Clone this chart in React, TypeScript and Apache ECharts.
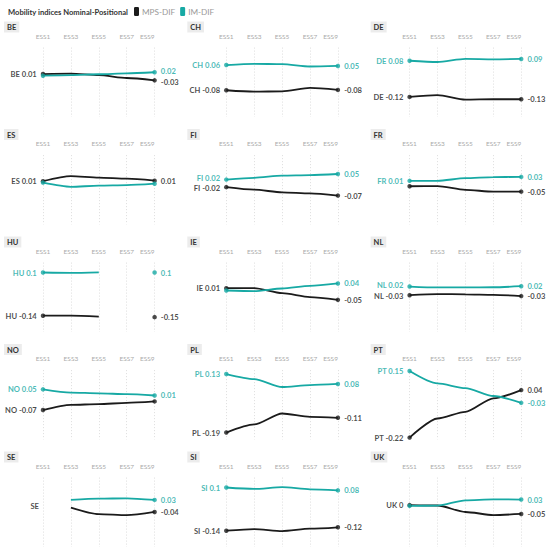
import React, { useEffect, useRef } from "react";
import * as echarts from "echarts";

const countries = ["BE", "CH", "DE", "ES", "FI", "FR", "HU", "IE", "NL", "NO", "PL", "PT", "SE", "SI", "UK"];
const rounds = [1, 3, 5, 7, 9];
const roundPrefix = "ESS";
const seriesNames = ["MPS-DIF", "IM-DIF"];

const mpsDif: (number | null)[][] = [
  [0.008, 0.01, 0.002, -0.014, -0.027],
  [-0.082, -0.09, -0.088, -0.069, -0.08],
  [-0.119, -0.109, -0.134, -0.132, -0.132],
  [0.01, 0.038, 0.03, 0.024, 0.013],
  [-0.023, -0.037, -0.052, -0.058, -0.07],
  [-0.018, -0.017, -0.038, -0.048, -0.048],
  [-0.14, -0.14, -0.145, null, -0.148],
  [0.013, 0.013, -0.015, -0.037, -0.052],
  [-0.026, -0.02, -0.021, -0.024, -0.031],
  [-0.067, -0.038, -0.034, -0.027, -0.019],
  [-0.192, -0.147, -0.086, -0.105, -0.11],
  [-0.22, -0.114, -0.077, -0.002, 0.044],
  [null, -0.012, -0.048, -0.054, -0.036],
  [-0.14, -0.131, -0.142, -0.129, -0.121],
  [0.002, 0.0, -0.036, -0.053, -0.047],
];

const imDif: (number | null)[][] = [
  [-0.001, 0.002, 0.007, 0.012, 0.018],
  [0.058, 0.065, 0.063, 0.05, 0.053],
  [0.082, 0.075, 0.092, 0.09, 0.092],
  [0.002, -0.021, -0.015, -0.012, -0.004],
  [0.019, 0.029, 0.041, 0.044, 0.05],
  [0.012, 0.012, 0.027, 0.033, 0.034],
  [0.1, 0.098, 0.101, null, 0.1],
  [0.0, -0.003, 0.011, 0.026, 0.039],
  [0.022, 0.017, 0.017, 0.018, 0.024],
  [0.048, 0.03, 0.026, 0.021, 0.014],
  [0.133, 0.105, 0.061, 0.072, 0.078],
  [0.15, 0.081, 0.055, 0.011, -0.027],
  [null, 0.031, 0.038, 0.04, 0.031],
  [0.1, 0.092, 0.102, 0.09, 0.084],
  [-0.002, -0.001, 0.029, 0.034, 0.033],
];

const FONT = "Lato, 'Noto Sans', sans-serif";
const COLORS = ["#1b1b1b", "#17a9a4"];
const Y_MIN = -0.23;
const Y_MAX = 0.155;
const PX_PER_UNIT = 180;
const COL_X0 = 43;
const COL_PITCH = 183.3;
const PLOT_W = 111.6;
const ROW_ZERO0 = 75.5;
const ROW_PITCH = 107.5;
const HIDE_GAP = 0.037;
const NUDGE_GAP = 0.05;

const fmt = (v: number) => String(Number(v.toFixed(2)) + 0);

function buildOption() {
  const titles: any[] = [
    {
      text: "Mobility indices Nominal-Positional",
      left: 3,
      top: 3,
      textStyle: { fontSize: 7.6, fontWeight: "bold", color: "#333", fontFamily: FONT },
    },
  ];
  const grids: any[] = [];
  const xAxes: any[] = [];
  const yAxes: any[] = [];
  const series: any[] = [];

  countries.forEach((code, i) => {
    const col = i % 3;
    const row = Math.floor(i / 3);
    const zero = ROW_ZERO0 + row * ROW_PITCH;
    const left = COL_X0 + col * COL_PITCH;
    const top = zero - Y_MAX * PX_PER_UNIT;
    const height = (Y_MAX - Y_MIN) * PX_PER_UNIT;

    titles.push({
      text: code,
      left: 4 + col * COL_PITCH,
      top: zero - 54,
      padding: [2, 3, 1, 3],
      backgroundColor: "#ececec",
      textStyle: { fontSize: 7.5, fontWeight: "bold", color: "#333", fontFamily: FONT, lineHeight: 8 },
    });

    grids.push({ left, top, width: PLOT_W, height, containLabel: false });
    xAxes.push({
      gridIndex: i,
      type: "value",
      position: "top",
      min: rounds[0],
      max: rounds[rounds.length - 1],
      interval: 2,
      axisLine: { show: false },
      axisTick: { show: false },
      axisLabel: {
        formatter: (v: number) => roundPrefix + v,
        color: "#aaa",
        fontSize: 6.5,
        fontFamily: FONT,
        margin: 8,
        alignMaxLabel: "right",
      },
      splitLine: { show: true, lineStyle: { color: "#d4d4d4", type: [1, 2], width: 0.8 } },
    });
    yAxes.push({
      gridIndex: i,
      type: "value",
      min: Y_MIN,
      max: Y_MAX,
      show: false,
      splitLine: { show: false },
    });

    const sets = [mpsDif[i], imDif[i]];
    const firstIdx = 0;
    const lastIdx = rounds.length - 1;
    // when both end values are close, only the upper one keeps its label
    const showLabel = (si: number, idx: number) => {
      const a = sets[si][idx];
      const b = sets[1 - si][idx];
      if (a == null) return false;
      if (b == null) return true;
      if (Math.abs(a - b) < HIDE_GAP) return a > b || (a === b && si === 0);
      return true;
    };
    // small vertical nudge so that two close visible labels do not touch
    const nudge = (si: number, idx: number) => {
      const a = sets[si][idx];
      const b = sets[1 - si][idx];
      if (a == null || b == null) return 0;
      const d = Math.abs(a - b);
      if (d < HIDE_GAP || d >= NUDGE_GAP) return 0;
      return a > b ? -1.2 : 1.2;
    };

    sets.forEach((vals, si) => {
      series.push({
        type: "line",
        name: seriesNames[si],
        xAxisIndex: i,
        yAxisIndex: i,
        data: vals.map((v, k) => [rounds[k], v == null ? "-" : v]),
        symbol: "none",
        smooth: 0.25,
        smoothMonotone: "x",
        connectNulls: false,
        lineStyle: { color: COLORS[si], width: 1.8 },
        itemStyle: { color: COLORS[si] },
        z: 2 + si,
      });

      const pts: any[] = [];
      const vFirst = vals[firstIdx];
      if (vFirst != null) {
        pts.push({
          value: [rounds[firstIdx], vFirst],
          label: {
            show: showLabel(si, firstIdx),
            position: "left",
            distance: 4,
            offset: [0, nudge(si, firstIdx)],
            formatter: code + " " + fmt(vFirst),
          },
        });
      }
      const vLast = vals[lastIdx];
      if (vLast != null) {
        pts.push({
          value: [rounds[lastIdx], vLast],
          label: {
            show: showLabel(si, lastIdx),
            position: "right",
            distance: 4,
            offset: [0, nudge(si, lastIdx)],
            formatter: fmt(vLast),
          },
        });
      }
      series.push({
        type: "scatter",
        name: seriesNames[si],
        xAxisIndex: i,
        yAxisIndex: i,
        data: pts,
        symbol: "circle",
        symbolSize: 4.5,
        itemStyle: { color: COLORS[si] },
        label: {
          color: COLORS[si],
          fontSize: 7.6,
          lineHeight: 7,
          fontWeight: "bold",
          fontFamily: FONT,
        },
        z: 4 + si,
      });
    });

    // country label for a panel without a first value
    if (sets[0][firstIdx] == null && sets[1][firstIdx] == null) {
      series.push({
        type: "scatter",
        xAxisIndex: i,
        yAxisIndex: i,
        data: [{ value: [rounds[firstIdx], 0] }],
        symbolSize: 0,
        silent: true,
        label: {
          show: true,
          position: "left",
          distance: 4,
          formatter: code,
          color: COLORS[0],
          fontSize: 7.6,
          lineHeight: 7,
          fontWeight: "bold",
          fontFamily: FONT,
        },
      });
    }
  });

  return {
    animation: false,
    backgroundColor: "#ffffff",
    textStyle: { fontFamily: FONT },
    title: titles,
    legend: {
      left: 129,
      top: 2,
      icon: "roundRect",
      itemWidth: 5,
      itemHeight: 9,
      itemGap: 5,
      selectedMode: false,
      data: seriesNames.map((n, k) => ({ name: n, itemStyle: { color: COLORS[k] } })),
      textStyle: { fontSize: 8.2, color: "#999", fontFamily: FONT, padding: [0, 0, 0, -2] },
    },
    grid: grids,
    xAxis: xAxes,
    yAxis: yAxes,
    series,
  };
}

export default function App() {
  const ref = useRef<HTMLDivElement>(null);
  useEffect(() => {
    if (!ref.current) return;
    const chart = echarts.init(ref.current, undefined, { renderer: "svg" });
    chart.setOption(buildOption() as any);
    return () => chart.dispose();
  }, []);
  return (
    <div
      ref={ref}
      style={{ position: "fixed", left: 0, top: 0, width: 550, height: 551, background: "#fff" }}
    />
  );
}
